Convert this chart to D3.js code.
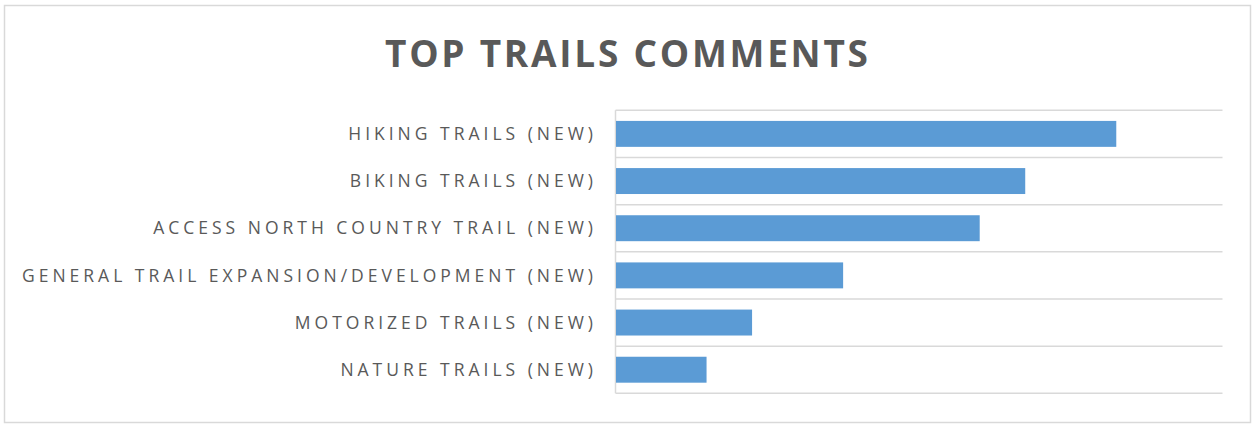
<!DOCTYPE html>
<html>
<head>
<meta charset="utf-8">
<script src="https://cdn.jsdelivr.net/npm/d3@7"></script>
<style>
  html, body { margin: 0; padding: 0; background: #fff; }
  svg { display: block; }
</style>
</head>
<body>
<svg id="chart" width="1252" height="424"></svg>
<script>
// Trail comment counts, top to bottom
const categories = [
  "HIKING TRAILS (NEW)",
  "BIKING TRAILS (NEW)",
  "ACCESS NORTH COUNTRY TRAIL (NEW)",
  "GENERAL TRAIL EXPANSION/DEVELOPMENT (NEW)",
  "MOTORIZED TRAILS (NEW)",
  "NATURE TRAILS (NEW)"
];
const comments = [33, 27, 24, 15, 9, 6];
const valueDomain = [0, 40];
const titleText = "TOP TRAILS COMMENTS";

const svg = d3.select("#chart");
const W = 1252, H = 424;
const grey = "#d9d9d9";
const textColor = "#595959";

// chart frame
svg.append("rect")
  .attr("x", 4.5).attr("y", 5.5)
  .attr("width", 1246).attr("height", 417)
  .attr("fill", "#fff")
  .attr("stroke", grey).attr("stroke-width", 1.5);

const plot = { left: 615.5, right: 1222.5, top: 110.3, bottom: 393.3 };

const x = d3.scaleLinear().domain(valueDomain).range([plot.left, plot.right]);
const y = d3.scaleBand().domain(categories).range([plot.top, plot.bottom]).padding(0);
const barFrac = 0.55;

// horizontal gridlines at category boundaries
const bounds = categories.map(c => y(c)).concat([plot.bottom]);
svg.append("g").selectAll("line").data(bounds).join("line")
  .attr("x1", plot.left).attr("x2", plot.right)
  .attr("y1", d => d).attr("y2", d => d)
  .attr("stroke", grey).attr("stroke-width", 1.5);

// category axis line
svg.append("line")
  .attr("x1", plot.left).attr("x2", plot.left)
  .attr("y1", plot.top).attr("y2", plot.bottom)
  .attr("stroke", grey).attr("stroke-width", 1.5);

// bars
const data = categories.map((c, i) => ({ c, v: comments[i] }));
svg.append("g").selectAll("rect").data(data).join("rect")
  .attr("x", x(0) + 0.5)
  .attr("y", d => y(d.c) + y.bandwidth() * (1 - barFrac) / 2)
  .attr("width", d => x(d.v) - x(0) - 0.5)
  .attr("height", y.bandwidth() * barFrac)
  .attr("fill", "#5b9bd5");

// category labels, right-aligned next to the axis
const labelFont = 17.5;
const labels = svg.append("g").selectAll("text").data(categories).join("text")
  .attr("x", 593)
  .attr("y", d => y(d) + y.bandwidth() / 2 + labelFont * 0.714 / 2)
  .attr("text-anchor", "end")
  .attr("font-family", "'Open Sans', sans-serif")
  .attr("font-size", labelFont)
  .attr("fill", textColor)
  .text(d => d);

// spread letters so the longest label spans its full width
let longest = null, maxW = 0;
labels.each(function () {
  const w = this.getComputedTextLength();
  if (w > maxW) { maxW = w; longest = this; }
});
const longLen = longest.textContent.length;
const labelSpacing = Math.max(0, (571 - maxW) / (longLen - 1));
labels.attr("letter-spacing", labelSpacing)
  .attr("x", 593 + labelSpacing);

// title
const title = svg.append("text")
  .attr("x", 626.5)
  .attr("y", 67)
  .attr("text-anchor", "middle")
  .attr("font-family", "'Open Sans', sans-serif")
  .attr("font-weight", "bold")
  .attr("font-size", 37)
  .attr("fill", textColor)
  .text(titleText);
const tw = title.node().getComputedTextLength();
const titleSpacing = Math.max(0, (483 - tw) / (titleText.length - 1));
title.attr("letter-spacing", titleSpacing)
  .attr("x", 626.5 + titleSpacing / 2);
</script>
</body>
</html>
